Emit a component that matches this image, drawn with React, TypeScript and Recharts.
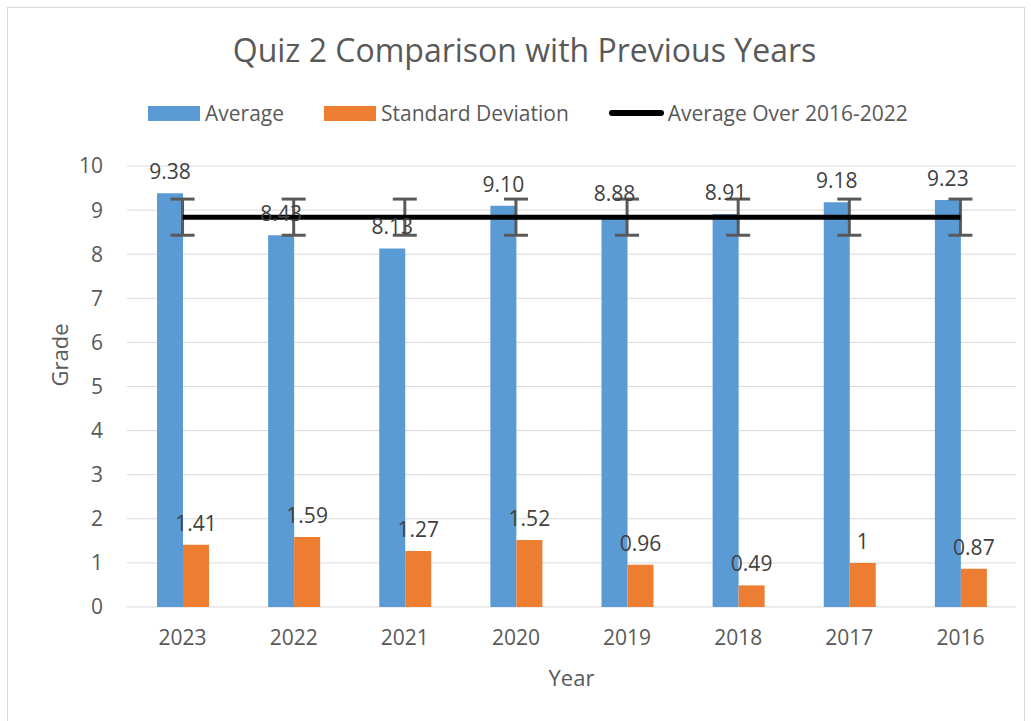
import { Bar, CartesianGrid, ComposedChart, ErrorBar, LabelList, Legend, Line, XAxis, YAxis } from "recharts";

const years = ["2023", "2022", "2021", "2020", "2019", "2018", "2017", "2016"];
const averages = [9.38, 8.43, 8.13, 9.1, 8.88, 8.91, 9.18, 9.23];
const stdDevs = [1.41, 1.59, 1.27, 1.52, 0.96, 0.49, 1, 0.87];
const overallAvg = [8.84, 8.84, 8.84, 8.84, 8.84, 8.84, 8.84, 8.84];
const overallSpread = [0.41, 0.41, 0.41, 0.41, 0.41, 0.41, 0.41, 0.41];
const yTicks = [0, 1, 2, 3, 4, 5, 6, 7, 8, 9, 10];

const data = years.map((year, i) => ({
  year,
  average: averages[i],
  std: stdDevs[i],
  overall: overallAvg[i],
  spread: overallSpread[i],
}));

const FONT = "'Open Sans', sans-serif";
const TEXT = "#595959";

function LegendContent() {
  const item = { display: "flex", alignItems: "center", fontSize: 21, color: TEXT };
  return (
    <div style={{ display: "flex", fontFamily: FONT, paddingLeft: 148 }}>
      <div style={item}>
        <span style={{ width: 52, height: 15, background: "#5B9BD5", marginRight: 5 }} />
        Average
      </div>
      <div style={{ ...item, marginLeft: 40 }}>
        <span style={{ width: 52, height: 15, background: "#ED7D31", marginRight: 5 }} />
        Standard Deviation
      </div>
      <div style={{ ...item, marginLeft: 40 }}>
        <span style={{ width: 55, height: 6, borderRadius: 3, background: "#000", marginRight: 4 }} />
        Average Over 2016-2022
      </div>
    </div>
  );
}

export default function App() {
  return (
    <div style={{ position: "absolute", left: 0, top: 0, width: 1031, height: 721, background: "#fff" }}>
      <div style={{ position: "absolute", left: 7, top: 7, width: 1016, height: 720, border: "1px solid #D9D9D9" }} />
      <div
        style={{
          position: "absolute",
          top: 28,
          left: 0,
          width: 1049,
          textAlign: "center",
          fontFamily: FONT,
          fontSize: 32,
          color: TEXT,
        }}
      >
        Quiz 2 Comparison with Previous Years
      </div>
      <ComposedChart width={1031} height={721} data={data} margin={{ top: 166, right: 15, left: 0, bottom: 0 }} barGap={0}>
        <CartesianGrid stroke="#D9D9D9" vertical={false} />
        <XAxis
          dataKey="year"
          height={114}
          axisLine={false}
          tickLine={false}
          tickSize={0}
          tickMargin={23}
          tick={{ fill: TEXT, fontSize: 21, fontFamily: FONT }}
          label={{ value: "Year", position: "insideBottom", offset: 35, fill: TEXT, fontSize: 22, fontFamily: FONT }}
        />
        <YAxis
          width={127}
          domain={[0, 10]}
          ticks={yTicks}
          axisLine={false}
          tickLine={false}
          tickSize={0}
          tickMargin={24}
          tick={{ fill: TEXT, fontSize: 21, fontFamily: FONT }}
          label={{ value: "Grade", angle: -90, position: "insideLeft", offset: 60, fill: TEXT, fontSize: 22, fontFamily: FONT }}
        />
        <Legend
          layout="horizontal"
          verticalAlign="middle"
          align="center"
          wrapperStyle={{ top: 99, left: 0, width: 1031 }}
          content={() => <LegendContent />}
        />
        <Bar dataKey="average" fill="#5B9BD5" barSize={26} isAnimationActive={false}>
          <LabelList
            dataKey="average"
            position="top"
            offset={14}
            fill="#404040"
            fontSize={21}
            fontFamily={FONT}
            formatter={(v: any) => Number(v).toFixed(2)}
          />
        </Bar>
        <Bar dataKey="std" fill="#ED7D31" barSize={26} isAnimationActive={false}>
          <LabelList dataKey="std" position="top" offset={14} fill="#404040" fontSize={21} fontFamily={FONT} />
        </Bar>
        <Line dataKey="overall" stroke="#000" strokeWidth={5} dot={false} isAnimationActive={false}>
          <ErrorBar dataKey="spread" direction="y" width={12} stroke="#595959" strokeWidth={3} isAnimationActive={false} />
        </Line>
      </ComposedChart>
    </div>
  );
}
